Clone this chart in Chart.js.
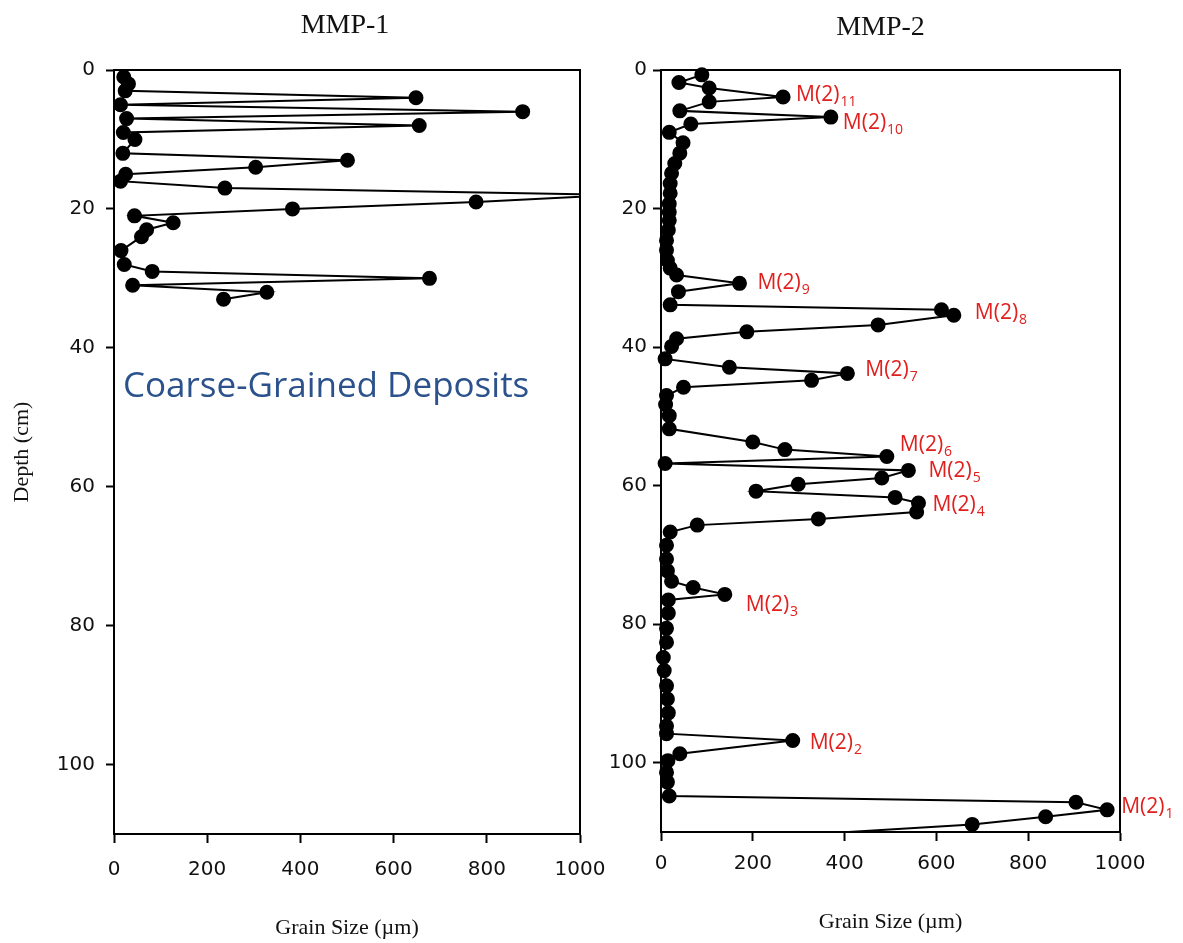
<!DOCTYPE html>
<html>
<head>
<meta charset="utf-8">
<script src="https://cdn.jsdelivr.net/npm/chart.js@4.4.1/dist/chart.umd.min.js"></script>
<style>
  html, body { margin: 0; padding: 0; background: #ffffff; }
  #wrap { position: relative; width: 1183px; height: 943px; overflow: hidden; background: #ffffff; }
  #c1 { position: absolute; left: 0; top: 0; }
  #c2 { position: absolute; left: 590px; top: 0; }
</style>
</head>
<body>
<div id="wrap">
  <canvas id="c1" width="620" height="943"></canvas>
  <canvas id="c2" width="593" height="943"></canvas>
</div>
<script>
// ---- core MMP-1 : depth (cm) and mean grain size (µm) ----
const mmp1Depth = [1, 2, 3, 4, 5, 6, 7, 8, 9, 10, 12, 13, 14, 15, 16, 17, 18, 19, 20, 21,
                   22, 23, 24, 26, 28, 29, 30, 31, 32, 33];
const mmp1Size  = [21, 31, 24, 648, 14, 877, 27, 655, 20, 45, 19, 501, 304, 25, 14, 238, 1080, 777, 383, 44,
                   127, 70, 59, 15, 22, 82, 677, 40, 328, 235];

// ---- core MMP-2 : depth (cm) and mean grain size (µm) ----
const mmp2Depth = [0.7, 1.8, 2.6, 3.9, 4.6, 5.9, 6.8, 7.8, 9.0, 10.5,
                   12.0, 13.5, 14.9, 16.4, 17.8, 19.3, 20.5, 21.7, 23.1, 24.6,
                   26.0, 27.5, 28.6, 29.6, 30.8, 32.0, 33.9, 34.6, 35.4, 36.8,
                   37.8, 38.8, 39.9, 41.7, 42.9, 43.8, 44.8, 45.8, 47.0, 48.3,
                   49.9, 51.8, 53.7, 54.8, 55.8, 56.8, 57.8, 58.9, 59.8, 60.8,
                   61.7, 62.5, 63.8, 64.8, 65.7, 66.7, 68.6, 70.6, 72.3, 73.8,
                   74.7, 75.7, 76.5, 78.4, 80.6, 82.6, 84.8, 86.7, 88.9, 90.8,
                   92.8, 94.7, 95.8, 96.8, 98.7, 99.7, 101.4, 102.8, 104.8, 105.7,
                   106.8, 107.8, 108.9, 111.5];
const mmp2Size  = [89, 39, 105, 266, 105, 41, 370, 65, 18, 48,
                   41, 30, 23, 20, 20, 18, 18, 18, 16, 12,
                   12, 14, 20, 34, 171, 38, 20, 611, 638, 473,
                   187, 34, 23, 9, 149, 406, 328, 49, 12, 10,
                   18, 18, 200, 270, 492, 9, 539, 481, 299, 207,
                   510, 561, 557, 343, 79, 20, 12, 12, 14, 23,
                   70, 139, 16, 16, 12, 12, 5, 7, 12, 14,
                   16, 12, 12, 287, 41, 15, 12, 14, 18, 904,
                   972, 838, 678, 40];

// ---- coarse layers M(2)n marked in MMP-2 (subscript, depth of the marked sample) ----
const layerSub   = ['1', '2', '3', '4', '5', '6', '7', '8', '9', '10', '11'];
const layerDepth = [106.8, 96.8, 75.7, 62.5, 57.8, 55.8, 43.8, 35.4, 30.8, 6.8, 3.9];

// ---- axis ticks ----
const depthTicks = [0, 20, 40, 60, 80, 100];
const sizeTicks  = [0, 200, 400, 600, 800, 1000];

const points = (depths, sizes) => depths.map((d, i) => ({ x: sizes[i], y: d }));

// label offsets (px from the marked point to the label's left/middle)
const layerOffsets = [[14, -3], [17, 2], [21, 11], [14, 2], [20, 1], [13, -12],
                      [18, -3], [21, -2], [18, 0], [12, 6], [13, -2]];

// full black frame around the plotting area
const framePlugin = {
  id: 'frame',
  beforeDatasetsDraw(chart) {
    const { ctx, chartArea: a } = chart;
    ctx.save();
    ctx.strokeStyle = '#000';
    ctx.lineWidth = 2;
    ctx.strokeRect(a.left, a.top, a.right - a.left, a.bottom - a.top);
    ctx.restore();
  }
};

// panel heading above each plot
const headingPlugin = {
  id: 'heading',
  afterDraw(chart, args, opts) {
    const { ctx, chartArea: a } = chart;
    ctx.save();
    ctx.font = '28px "Liberation Serif", "Times New Roman", serif';
    ctx.fillStyle = '#111';
    ctx.textAlign = 'center';
    ctx.textBaseline = 'middle';
    ctx.fillText(opts.text, (a.left + a.right) / 2 + (opts.dx || 0), opts.y);
    ctx.restore();
  }
};

// annotation inside MMP-1
const notePlugin = {
  id: 'note',
  afterDraw(chart, args, opts) {
    if (!opts.text) return;
    const { ctx, chartArea: a } = chart;
    ctx.save();
    ctx.font = '35px "Open Sans", sans-serif';
    ctx.fillStyle = '#2b528c';
    ctx.textAlign = 'left';
    ctx.textBaseline = 'middle';
    ctx.fillText(opts.text, a.left + 9, opts.y);
    ctx.restore();
  }
};

// red M(2)n labels next to the marked samples in MMP-2
const layerLabelPlugin = {
  id: 'layerLabels',
  afterDatasetsDraw(chart, args, opts) {
    if (!opts.enabled) return;
    const { ctx, scales } = chart;
    ctx.save();
    ctx.fillStyle = '#e0201e';
    ctx.textBaseline = 'middle';
    ctx.textAlign = 'left';
    layerSub.forEach((sub, k) => {
      const idx = mmp2Depth.indexOf(layerDepth[k]);
      const px = scales.x.getPixelForValue(mmp2Size[idx]);
      const py = scales.y.getPixelForValue(mmp2Depth[idx]);
      const x = px + layerOffsets[k][0];
      const y = py + layerOffsets[k][1];
      ctx.font = '21px "Open Sans", sans-serif';
      ctx.fillText('M(2)', x, y);
      const w = ctx.measureText('M(2)').width;
      ctx.font = '14px "Open Sans", sans-serif';
      ctx.fillText(sub, x + w + 1, y + 7);
    });
    ctx.restore();
  }
};

function makeChart(canvasId, data, cfg) {
  const tickFont = { family: '"DejaVu Sans", Arial, sans-serif', size: 20 };
  const titleFont = { family: '"Liberation Serif", "Times New Roman", serif', size: 22 };
  return new Chart(document.getElementById(canvasId), {
    type: 'scatter',
    data: {
      datasets: [{
        data: data,
        showLine: true,
        borderColor: '#000',
        borderWidth: 2,
        backgroundColor: '#000',
        pointBackgroundColor: '#000',
        pointBorderColor: '#000',
        pointRadius: 6.5,
        pointHoverRadius: 6.5,
        tension: 0,
        clip: { left: 8, top: 8, right: 0, bottom: 0 }
      }]
    },
    plugins: [framePlugin, headingPlugin, notePlugin, layerLabelPlugin],
    options: {
      responsive: false,
      animation: false,
      events: [],
      layout: { padding: { top: 70, right: cfg.padRight, left: 0, bottom: 0 } },
      plugins: {
        legend: { display: false },
        tooltip: { enabled: false },
        heading: { text: cfg.heading, y: cfg.headingY, dx: cfg.headingDx },
        note: { text: cfg.note, y: 387 },
        layerLabels: { enabled: cfg.labels }
      },
      scales: {
        x: {
          type: 'linear',
          position: 'bottom',
          min: 0, max: 1000,
          afterBuildTicks: s => { s.ticks = sizeTicks.map(v => ({ value: v })); },
          afterFit: s => { s.height = cfg.xAxisHeight; s.paddingLeft = 0; s.paddingRight = 0; },
          border: { display: true, color: '#000', width: 2 },
          grid: { display: true, drawOnChartArea: false, drawTicks: true, tickLength: 9, tickWidth: 2, tickColor: '#000' },
          ticks: { color: '#111', font: tickFont, padding: cfg.xTickPad, maxRotation: 0, callback: v => String(v) },
          title: { display: true, text: 'Grain Size (µm)', color: '#111', font: titleFont, padding: { top: 0, bottom: cfg.xTitlePad } }
        },
        y: {
          type: 'linear',
          position: 'left',
          reverse: true,
          min: 0, max: 110,
          afterBuildTicks: s => { s.ticks = depthTicks.map(v => ({ value: v })); },
          afterFit: s => { s.width = cfg.yAxisWidth; },
          border: { display: true, color: '#000', width: 2 },
          grid: { display: true, drawOnChartArea: false, drawTicks: true, tickLength: 8, tickWidth: 2, tickColor: '#000' },
          ticks: { color: '#111', font: tickFont, padding: cfg.yTickPad, callback: v => String(v) },
          title: { display: cfg.yTitle, text: 'Depth (cm)', color: '#111', font: titleFont, padding: { top: 9, bottom: 0 } }
        }
      }
    }
  });
}

makeChart('c1', points(mmp1Depth, mmp1Size), {
  heading: 'MMP-1', headingY: 26, headingDx: -2,
  note: 'Coarse-Grained Deposits',
  labels: false,
  padRight: 40, yAxisWidth: 114, xAxisHeight: 109,
  xTickPad: 15, xTitlePad: 2, yTickPad: 11, yTitle: true
});

makeChart('c2', points(mmp2Depth, mmp2Size), {
  heading: 'MMP-2', headingY: 28, headingDx: -10,
  note: '',
  labels: true,
  padRight: 63, yAxisWidth: 71, xAxisHeight: 111,
  xTickPad: 11, xTitlePad: 8, yTickPad: 6, yTitle: false
});
</script>
</body>
</html>
